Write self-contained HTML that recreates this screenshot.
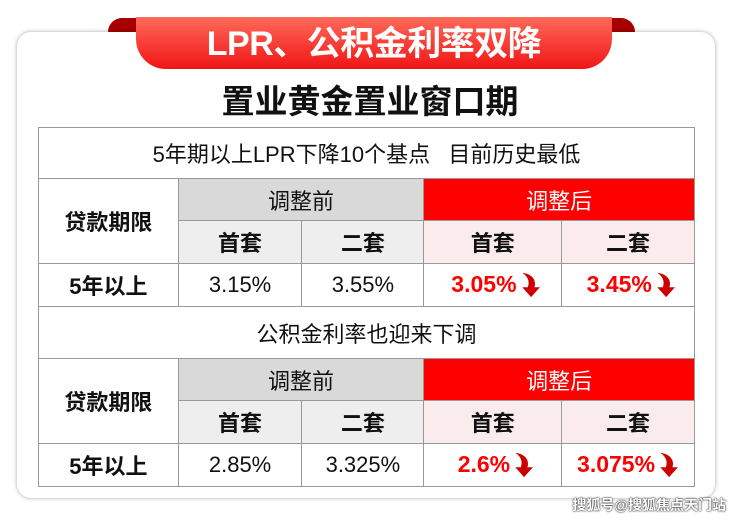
<!DOCTYPE html><html><head><meta charset="utf-8"><style>
body{margin:0;width:740px;height:521px;background:#fff;position:relative;overflow:hidden;font-family:"Liberation Sans","Noto Sans CJK SC",sans-serif}
.card{position:absolute;left:17px;top:32px;width:698px;height:466px;border-radius:14px;background:#fff;box-shadow:0 0 4px rgba(0,0,0,.35)}
.rib{position:absolute;left:136px;top:17px;width:476px;height:52px;background:linear-gradient(#ff6a5a,#f01515);border-radius:0 0 30px 30px;color:#fff;font-size:34px;font-weight:bold;text-align:center;line-height:54px;letter-spacing:-0.5px}
.ear{position:absolute;top:18px;width:30px;height:24px;background:#a80000;}
.sub{position:absolute;left:0;width:740px;top:75px;text-align:center;font-size:33px;font-weight:bold;color:#111}
table{position:absolute;left:38px;top:127px;border-collapse:collapse;width:657px;font-size:22px;color:#111}
td{border:1px solid #999;text-align:center;padding:0}
.g{background:#d9d9d9}.lg{background:#eeeeee}.r{background:#ff0000;color:#fff}.p{background:#faecec}
.b{font-weight:bold}.red{color:#f00;font-weight:bold;font-size:23px}
svg{vertical-align:middle;margin-left:2px}
.wm{position:absolute;right:14px;top:495px;font-size:14px;color:#fff;font-weight:bold;text-shadow:0 0 2px #333,0 0 1px #000}
</style></head><body>
<div class="ear" style="left:108px;border-radius:14px 0 0 0"></div>
<div class="ear" style="left:605px;border-radius:0 14px 0 0"></div>
<div class="card"></div>
<div class="rib">LPR、公积金利率双降</div>
<div class="sub">置业黄金置业窗口期</div>
<table>
<colgroup><col style="width:140px"><col style="width:124px"><col style="width:122px"><col style="width:138px"><col style="width:133px"></colgroup>
<tr style="height:51px"><td colspan="5">5年期以上LPR下降10个基点&nbsp;&nbsp;&nbsp;目前历史最低</td></tr>
<tr style="height:42px"><td rowspan="2" class="b">贷款期限</td><td colspan="2" class="g">调整前</td><td colspan="2" class="r">调整后</td></tr>
<tr style="height:43px"><td class="lg b">首套</td><td class="lg b">二套</td><td class="p b">首套</td><td class="p b">二套</td></tr>
<tr style="height:43px"><td class="b">5年以上</td><td>3.15%</td><td>3.55%</td><td class="red">&nbsp;3.05%<svg width="22" height="28" viewBox="0 0 20 24"><path d="M3 1 C13 2 16 9 14 14 L19 14 L11 23 L3 14 L8 14 C10 9 8 4 3 1Z" fill="#c00"/></svg></td><td class="red">&nbsp;3.45%<svg width="22" height="28" viewBox="0 0 20 24"><path d="M3 1 C13 2 16 9 14 14 L19 14 L11 23 L3 14 L8 14 C10 9 8 4 3 1Z" fill="#c00"/></svg></td></tr>
<tr style="height:52px"><td colspan="5">公积金利率也迎来下调</td></tr>
<tr style="height:42px"><td rowspan="2" class="b">贷款期限</td><td colspan="2" class="g">调整前</td><td colspan="2" class="r">调整后</td></tr>
<tr style="height:43px"><td class="lg b">首套</td><td class="lg b">二套</td><td class="p b">首套</td><td class="p b">二套</td></tr>
<tr style="height:43px"><td class="b">5年以上</td><td>2.85%</td><td>3.325%</td><td class="red">&nbsp;2.6%<svg width="22" height="28" viewBox="0 0 20 24"><path d="M3 1 C13 2 16 9 14 14 L19 14 L11 23 L3 14 L8 14 C10 9 8 4 3 1Z" fill="#c00"/></svg></td><td class="red">3.075%<svg width="22" height="28" viewBox="0 0 20 24"><path d="M3 1 C13 2 16 9 14 14 L19 14 L11 23 L3 14 L8 14 C10 9 8 4 3 1Z" fill="#c00"/></svg></td></tr>
</table>
<div class="wm">搜狐号@搜狐焦点天门站</div>
</body></html>
